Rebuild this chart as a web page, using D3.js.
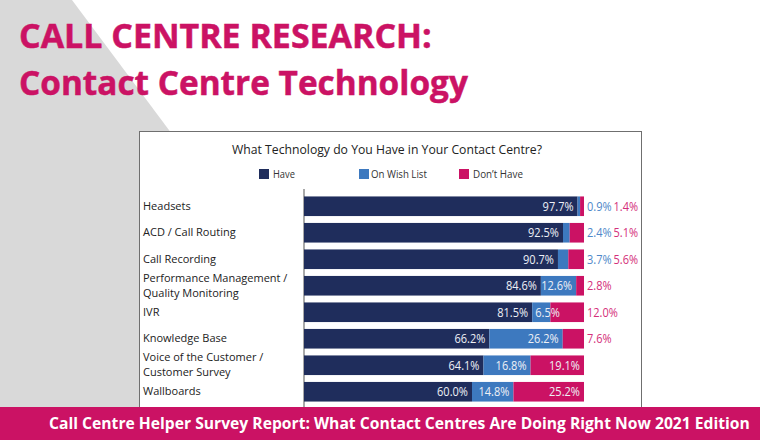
<!DOCTYPE html>
<html><head><meta charset="utf-8">
<script src="https://cdn.jsdelivr.net/npm/d3@7"></script>
<style>html,body{margin:0;padding:0;background:#fff}svg{display:block}text{font-family:"Open Sans",Lato,sans-serif}</style>
</head><body><svg id="c" width="760" height="440"></svg>
<script>
const categories=["Headsets","ACD / Call Routing","Call Recording","Performance Management /|Quality Monitoring","IVR","Knowledge Base","Voice of the Customer /|Customer Survey","Wallboards"];
const have=[97.7,92.5,90.7,84.6,81.5,66.2,64.1,60.0];
const wish=[0.9,2.4,3.7,12.6,6.5,26.2,16.8,14.8];
const dont=[1.4,5.1,5.6,2.8,12.0,7.6,19.1,25.2];
const seriesNames=["Have","On Wish List","Don\u2019t Have"];
const colors=["#1f2d5c","#3d79bf","#cb1264"];
const chartTitle="What Technology do You Have in Your Contact Centre?";
const heading=["CALL CENTRE RESEARCH:","Contact Centre Technology"];
const footer="Call Centre Helper Survey Report: What Contact Centres Are Doing Right Now 2021 Edition";

const svg=d3.select("#c");
svg.append("polygon").attr("points","0,0 72,0 400,440 0,440").attr("fill","#d9d9d9");
svg.append("rect").attr("x",139.5).attr("y",131.5).attr("width",502).attr("height",290).attr("fill","#fff").attr("stroke","#6f6f6f");

const fit=(t,px,py,w)=>{const n=t.node().getComputedTextLength();t.attr("transform",`translate(${px},${py}) scale(${w/n},1)`);return t;};

heading.forEach((s,i)=>{
  const t=svg.append("text").text(s).attr("fill","#cb1264").attr("stroke","#cb1264").attr("stroke-width",0.5)
    .attr("font-size",34).attr("font-weight",700);
  fit(t,19,[48,95][i],[413,449][i]);
});
fit(svg.append("text").text(chartTitle).attr("font-size",13).attr("fill","#222"),232,154,310);

const x=d3.scaleLinear().domain([0,100]).range([304,584]);
const y=d3.scaleBand().domain(categories).range([193,405]).paddingInner(0.26).paddingOuter(0.13);
const legendX=[259,359,459],legendTextX=[273,371,473],legendLen=[22,56,50];
seriesNames.forEach((n,i)=>{
  svg.append("rect").attr("x",legendX[i]).attr("y",169).attr("width",10).attr("height",10).attr("fill",colors[i]);
  fit(svg.append("text").text(n).attr("font-size",10).attr("fill","#333"),legendTextX[i],178,legendLen[i]);
});

const ax=svg.append("g").attr("transform","translate(304,0)").call(d3.axisLeft(y).tickSize(0).tickFormat(""));
ax.select(".domain").attr("stroke","#8c8c8c").attr("stroke-width",1.5).attr("d","M0,189V407");
ax.selectAll(".tick").each(function(d){
  const lines=d.split("|"),g=d3.select(this);
  lines.forEach((l,i)=>{
    g.append("text").attr("fill","#222").attr("font-size",11).attr("text-anchor","start").text(l)
      .attr("x",-161).attr("y",(i-(lines.length-1)/2)*15+3.5);
  });
});

const rows=categories.map((c,i)=>({c,v:[have[i],wish[i],dont[i]]}));
rows.forEach(r=>{
  let acc=0;
  r.v.forEach((v,j)=>{
    const x0=x(acc),x1=x(acc+v);acc+=v;
    svg.append("rect").attr("x",x0).attr("y",y(r.c)).attr("width",x1-x0).attr("height",y.bandwidth()).attr("fill",colors[j]);
  });
});
rows.forEach(r=>{
  let acc=0;
  let outX=x(100)+3;
  r.v.forEach((v,j)=>{
    const x1=x(acc+v),x0=x(acc);acc+=v;
    const label=v.toFixed(1)+"%",yy=y(r.c)+y.bandwidth()/2+4.4;
    const t=svg.append("text").text(label).attr("font-size",12);
    let px;
    if(v<5||(j===2&&v<=12)){
      px=outX;t.attr("fill",j===1?"#4f88c9":"#d42f7a");
      outX+=26.5;
    }else if(v<8){
      px=x0+3;t.attr("fill","#eef0f6");
    }else{
      px=x1-4;t.attr("text-anchor","end").attr("fill","#eef0f6");
    }
    t.attr("transform",`translate(${px},${yy}) scale(0.92,1)`);
  });
});

svg.append("rect").attr("x",0).attr("y",407).attr("width",760).attr("height",33).attr("fill","#cb1264");
fit(svg.append("text").text(footer).attr("fill","#fff").attr("font-weight",700).attr("font-size",15.5),49,429,701);
</script></body></html>
